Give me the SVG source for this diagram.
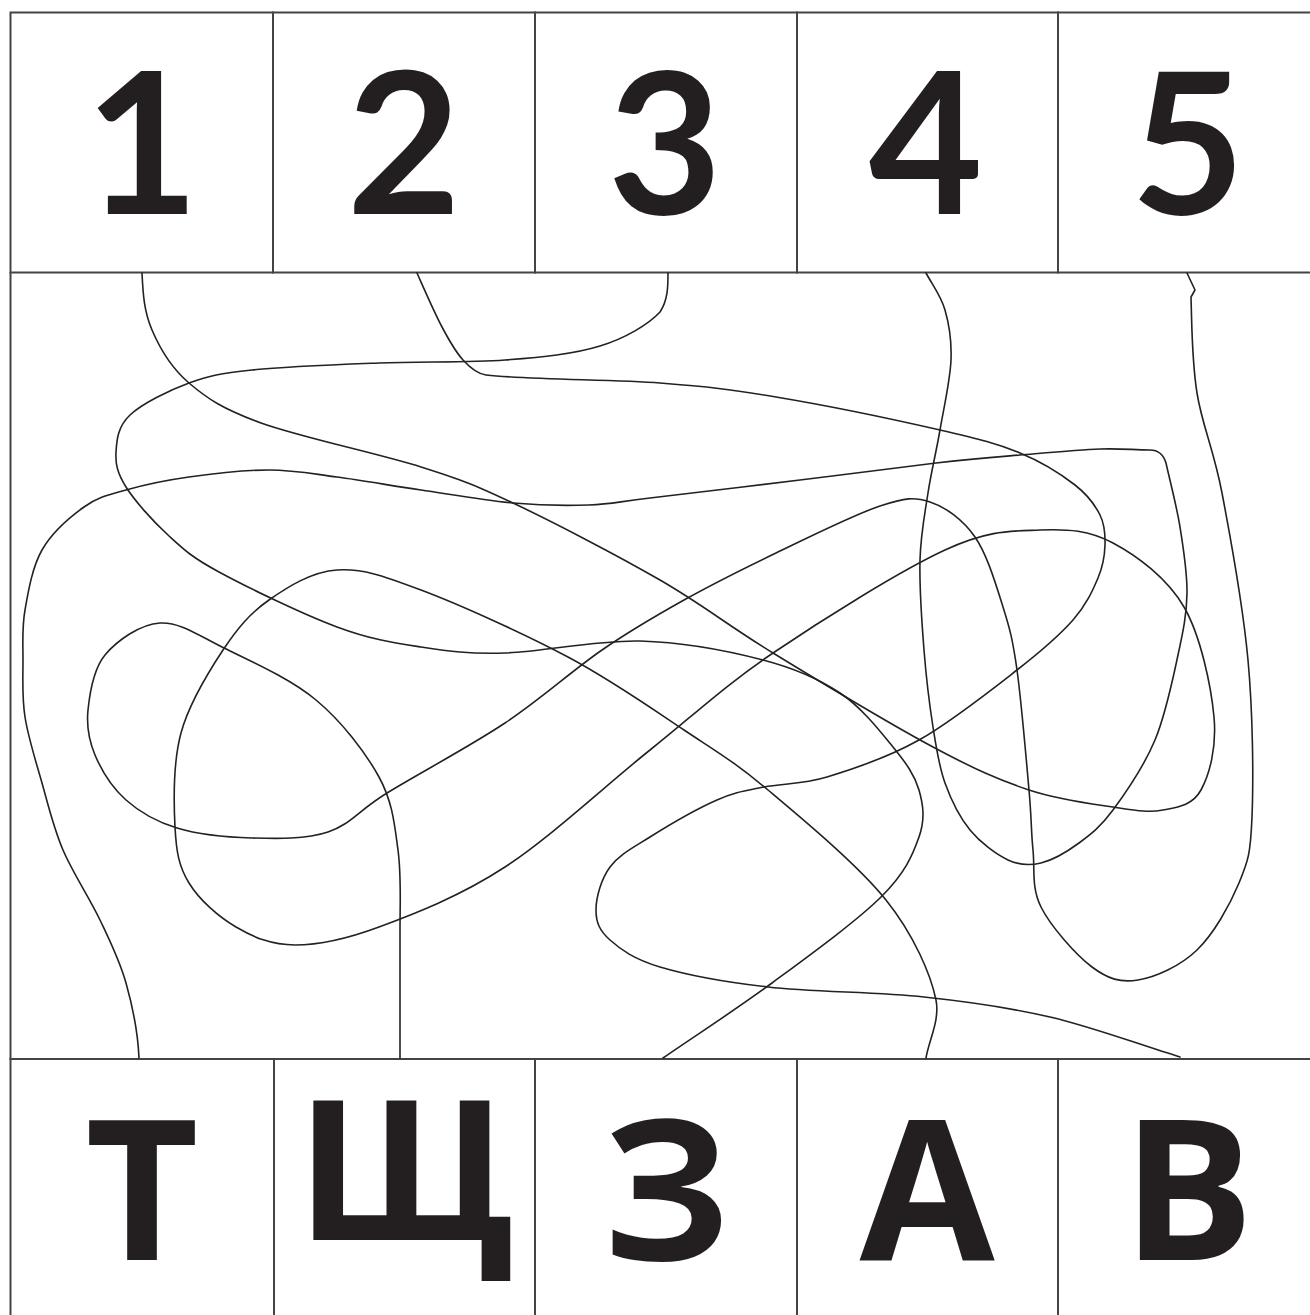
<svg xmlns="http://www.w3.org/2000/svg" width="1310" height="1315" viewBox="0 0 1310 1315">
<style>
.cell{fill:none;stroke:#444;stroke-width:2}
.frame{fill:none;stroke:#444;stroke-width:2}
.dig{font-family:Lato,"Open Sans","Liberation Sans",sans-serif;font-weight:700;font-size:197px;fill:#231f20;text-anchor:middle}
.let{font-family:"Open Sans","Liberation Sans",sans-serif;font-weight:700;font-size:196px;fill:#231f20;text-anchor:middle}
.wire{fill:none;stroke:#222;stroke-width:1.6;stroke-linecap:round;stroke-linejoin:round}
</style>
<rect width="1310" height="1315" fill="#fff"/>
<g id="frame">
<line class="frame" x1="10.5" y1="272" x2="10.5" y2="1060"/>
</g>
<g id="n1"><rect class="cell" x="10.5" y="12.5" width="262.5" height="260"/><text class="dig" x="142" y="214">1</text></g>
<g id="n2"><rect class="cell" x="273" y="12.5" width="262" height="260"/><text class="dig" x="404" y="214">2</text></g>
<g id="n3"><rect class="cell" x="535" y="12.5" width="262" height="260"/><text class="dig" x="665" y="214">3</text></g>
<g id="n4"><rect class="cell" x="797" y="12.5" width="261" height="260"/><text class="dig" x="926" y="214">4</text></g>
<g id="n5"><rect class="cell" x="1058" y="12.5" width="262" height="260"/><text class="dig" x="1188" y="214">5</text></g>
<g id="nT"><rect class="cell" x="10.5" y="1059" width="263.5" height="280"/><text class="let" x="142" y="1260">Т</text></g>
<g id="nShch"><rect class="cell" x="274" y="1059" width="261" height="280"/><text class="let" x="405" y="1240">Щ</text></g>
<g id="nZe"><rect class="cell" x="535" y="1059" width="262" height="280"/><text class="let" x="666" y="1260">З</text></g>
<g id="nA"><rect class="cell" x="797" y="1059" width="261" height="280"/><text class="let" x="927" y="1260">А</text></g>
<g id="nVe"><rect class="cell" x="1058" y="1059" width="262" height="280"/><text class="let" x="1188" y="1260">В</text></g>
<g id="connectors">
<path id="c1" class="wire" d="M142,273 C143,295 144.2,311.7 152,330 C159.8,348.3 170.8,367.5 189,383 C207.2,398.5 222.3,409 261,423 C299.7,437 379,453.7 421,467 C463,480.3 473.2,484.2 513,503 C552.8,521.8 616.7,555 660,580 C703.3,605 727.5,625.2 773,653 C818.5,680.8 890.3,724.2 933,747 C975.7,769.8 999,780 1029,790 C1059,800 1090.7,803.7 1113,807 C1135.3,810.3 1148.3,812.8 1163,810 C1177.7,807.2 1192.5,805.5 1201,790 C1209.5,774.5 1216.8,747.5 1214,717 C1211.2,686.5 1200.8,636 1184,607 C1167.2,578 1137,555.8 1113,543 C1089,530.2 1068,528.8 1040,530 C1012,531.2 989.5,529.5 945,550 C900.5,570.5 822.2,619.7 773,653 C723.8,686.3 694.7,714.3 650,750 C605.3,785.7 550.2,837.5 505,867 C459.8,896.5 414,914 379,927 C344,940 318.8,945 295,945 C271.2,945 253.7,937.3 236,927 C218.3,916.7 199.2,899.7 189,883 C178.8,866.3 176.3,852 175,827 C173.7,802 173,762.5 181,733 C189,703.5 208.3,672.2 223,650 C237.7,627.8 250,613.3 269,600 C288,586.7 311.7,571.7 337,570 C362.3,568.3 382.5,575.5 421,590 C459.5,604.5 524.2,633.7 568,657 C611.8,680.3 650.7,707.8 684,730 C717.3,752.2 734.3,761.7 768,790 C801.7,818.3 858,865 886,900 C914,935 931,975 936,1000 C940,1020 929,1040 926,1058"/>
<path id="c2" class="wire" d="M417,273 C425,291 434.3,312.5 442,327 C449.7,341.5 455.7,352 463,360 C470.3,368 478,374 486,375 C530,380 611.7,379.3 660,383 C708.3,386.7 729.3,389.2 776,397 C822.7,404.8 899.3,420.7 940,430 C980.7,439.3 997.5,443.8 1020,453 C1042.5,462.2 1061.7,474.7 1075,485 C1088.3,495.3 1095,505 1100,515 C1105,525 1105.3,534.5 1105,545 C1104.7,555.5 1103.3,565.5 1098,578 C1092.7,590.5 1086.5,604.7 1073,620 C1059.5,635.3 1042.7,650 1017,670 C991.3,690 950.7,722.2 919,740 C887.3,757.8 852.8,769.2 827,777 C801.2,784.8 782.3,783.2 764,787 C745.7,790.8 736,791.7 717,800 C698,808.3 667.8,825.8 650,837 C632.2,848.2 619,854.8 610,867 C601,879.2 596,897.8 596,910 C596,922.2 599.3,930.5 610,940 C620.7,949.5 633.7,959.2 660,967 C686.3,974.8 724,982 768,987 C812,992 877,992 924,997 C971,1002 1007.3,1007 1050,1017 C1092.7,1027 1136.7,1043.7 1180,1057"/>
<path id="c3" class="wire" d="M668,273 C668,286 668,300 660,312 C648.7,324.2 625.8,338 600,346 C574.2,354 541.8,357.2 505,360 C468.2,362.8 421.2,361.3 379,363 C336.8,364.7 283.7,366.7 252,370 C220.3,373.3 209.3,375.5 189,383 C168.7,390.5 142.2,403.5 130,415 C117.8,426.5 116.7,440 116,452 C115.3,464 117.3,473.2 126,487 C134.7,500.8 152.5,520.8 168,535 C183.5,549.2 190.8,556.7 219,572 C247.2,587.3 303.3,614.5 337,627 C370.7,639.5 393,642.7 421,647 C449,651.3 468.5,654 505,653 C541.5,652 597,639.8 640,641 C683,642.2 729.7,651.3 763,660 C796.3,668.7 818.3,678.5 840,693 C861.7,707.5 879.8,730.8 893,747 C906.2,763.2 914.7,775 919,790 C923.3,805 925.3,819.2 919,837 C912.7,854.8 905.5,872.7 881,897 C856.5,921.3 808.3,956.2 772,983 C735.7,1009.8 699.3,1033 663,1058"/>
<path id="c4" class="wire" d="M926,273 C933,286 940.8,295.5 945,310 C949.2,324.5 951.8,340 951,360 C950.2,380 943.8,407.8 940,430 C936.2,452.2 931.3,471.3 928,493 C924.7,514.7 920.7,533.8 920,560 C919.3,586.2 921.8,622.2 924,650 C926.2,677.8 929.5,704.8 933,727 C936.5,749.2 938.8,765.8 945,783 C951.2,800.2 959.5,817.2 970,830 C980.5,842.8 996.2,854.5 1008,860 C1019.8,865.5 1029.2,865.8 1041,863 C1052.8,860.2 1067,851.8 1079,843 C1091,834.2 1100.3,827.2 1113,810 C1125.7,792.8 1144.2,765.8 1155,740 C1165.8,714.2 1172.7,679.5 1178,655 C1183.3,630.5 1186.7,614.3 1187,593 C1187.3,571.7 1183.5,548.8 1180,527 C1176.5,505.2 1169,477 1166,463 Q1162,450 1150,450 C1133,450 1121.7,448.2 1100,449 C1078.3,449.8 1047.3,452.7 1020,455 C992.7,457.3 972.7,458.8 936,463 C899.3,467.2 847.7,474.2 800,480 C752.3,485.8 685.2,493.8 650,498 C614.8,502.2 611.8,504.2 589,505 C566.2,505.8 541,505.5 513,503 C485,500.5 450.3,494.3 421,490 C391.7,485.7 362.3,480.3 337,477 C311.7,473.7 293.7,470 269,470 C244.3,470 212.8,473.7 189,477 C165.2,480.3 143.5,485 126,490 C108.5,495 98,497 84,507 C70,517 51.8,532.8 42,550 C32.2,567.2 28.2,591.7 25,610 C21.8,628.3 23,642.2 23,660 C23,677.8 21.8,696.5 25,717 C28.2,737.5 35.7,760.8 42,783 C48.3,805.2 53.3,827.2 63,850 C72.7,872.8 89.5,897.8 100,920 C110.5,942.2 119.5,960 126,983 C132.5,1006 138,1035 139,1058"/>
<path id="c5" class="wire" d="M1187,273 L1195,290 L1191,297 C1192,330 1191.8,360.3 1197,393 C1202.2,425.7 1213.5,448.5 1222,493 C1230.5,537.5 1243,606 1248,660 C1253,714 1253.5,779.8 1252,817 C1250.5,854.2 1248.2,860.8 1239,883 C1229.8,905.2 1213.8,933.8 1197,950 C1180.2,966.2 1155.5,977.2 1138,980 C1120.5,982.8 1108.2,979.2 1092,967 C1075.8,954.8 1050.8,926.5 1041,907 C1031.2,887.5 1035,869.5 1033,850 C1031,830.5 1031.7,820 1029,790 C1026.3,760 1021.3,700.5 1017,670 C1012.7,639.5 1010,629.2 1003,607 C996,584.8 987.2,554.5 975,537 C962.8,519.5 945.8,507.2 930,502 C914.2,496.8 905.7,497.5 880,506 C854.3,514.5 808.7,537.3 776,553 C743.3,568.7 713,583.8 684,600 C655,616.2 631.8,629.5 602,650 C572.2,670.5 540.8,699.2 505,723 C469.2,746.8 416.5,774.8 387,793 C357.5,811.2 350.5,824.5 328,832 C305.5,839.5 277.2,838.7 252,838 C226.8,837.3 198,834.3 177,828 C156,821.7 139.7,812.2 126,800 C112.3,787.8 101.3,770 95,755 C88.7,740 86.3,726.7 88,710 C89.7,693.3 93,669.5 105,655 C117,640.5 140.2,624.2 160,623 C179.8,621.8 198,635.2 224,648 C250,660.8 290.2,678.5 316,700 C341.8,721.5 365.3,752 379,777 C392.7,802 394.5,824.5 398,850 C401.5,875.5 400,905 400,930 L400,1058"/>
</g>
</svg>
